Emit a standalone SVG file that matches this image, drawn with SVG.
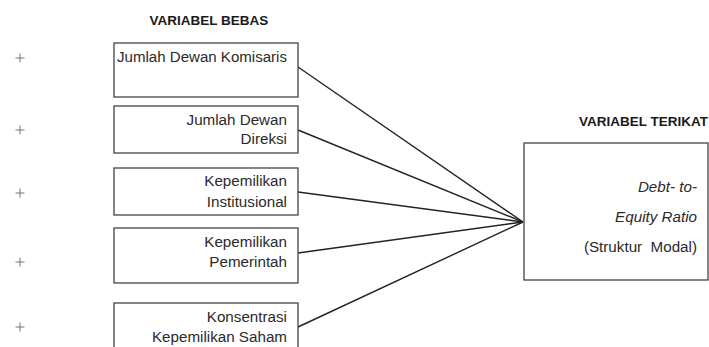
<svg xmlns="http://www.w3.org/2000/svg" width="709" height="347" viewBox="0 0 709 347">
<style>
.bg{fill:#fff}
.box{fill:#fff;stroke:#444;stroke-width:1.3}
.t{font-family:"Liberation Sans",Arial,sans-serif;font-size:15.2px;fill:#2a2a2a}
.r{text-anchor:end}
.i{font-style:italic}
.h{font-family:"Liberation Sans",Arial,sans-serif;font-size:13.5px;font-weight:bold;fill:#1a1a1a}
.plus{stroke:#777;stroke-width:1}
.c{stroke:#222;stroke-width:1.4;fill:none}
</style>
<rect class="bg" x="0" y="0" width="709" height="347"/>
<text class="h" x="209" y="25" text-anchor="middle">VARIABEL BEBAS</text>
<text class="h" x="579" y="126">VARIABEL TERIKAT</text>
<g id="plus-marks">
<path class="plus" d="M15.5 58h9M20 53.5v9M15.5 130h9M20 125.5v9M15.5 193h9M20 188.5v9M15.5 262h9M20 257.5v9M15.5 327h9M20 322.5v9"/>
</g>
<g id="connectors">
<line class="c" x1="298" y1="67" x2="523" y2="222"/>
<line class="c" x1="298" y1="130" x2="523" y2="222"/>
<line class="c" x1="298" y1="192" x2="523" y2="222"/>
<line class="c" x1="298" y1="253" x2="523" y2="222"/>
<line class="c" x1="298" y1="327" x2="523" y2="222"/>
</g>
<g id="n1">
<rect class="box" x="114" y="43" width="184" height="54"/>
<text class="t" x="117" y="62" textLength="170" lengthAdjust="spacingAndGlyphs">Jumlah Dewan Komisaris</text>
</g>
<g id="n2">
<rect class="box" x="114" y="106" width="184" height="47"/>
<text class="t r" x="287" y="125">Jumlah Dewan</text>
<text class="t r" x="287" y="144">Direksi</text>
</g>
<g id="n3">
<rect class="box" x="114" y="168" width="184" height="47"/>
<text class="t r" x="287" y="186">Kepemilikan</text>
<text class="t r" x="287" y="207">Institusional</text>
</g>
<g id="n4">
<rect class="box" x="114" y="228" width="184" height="55"/>
<text class="t r" x="287" y="247">Kepemilikan</text>
<text class="t r" x="287" y="267">Pemerintah</text>
</g>
<g id="n5">
<rect class="box" x="114" y="303" width="184" height="60"/>
<text class="t r" x="287" y="322">Konsentrasi</text>
<text class="t r" x="287" y="342">Kepemilikan Saham</text>
</g>
<g id="target">
<rect class="box" x="524" y="143" width="184" height="137"/>
<text class="t r i" x="697" y="192">Debt- to-</text>
<text class="t r i" x="697" y="222">Equity Ratio</text>
<text class="t r" x="697" y="252" xml:space="preserve">(Struktur  Modal)</text>
</g>
</svg>
